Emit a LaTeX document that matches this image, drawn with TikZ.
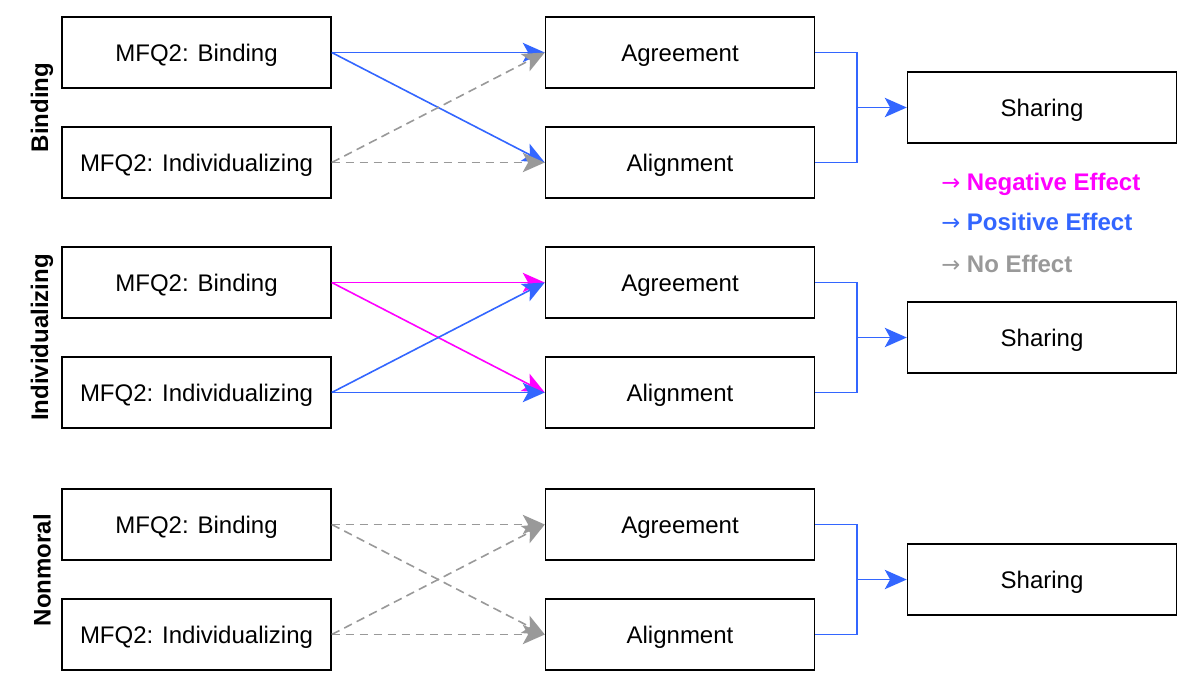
\documentclass[tikz,border=0pt]{standalone}
\usepackage{fontspec}
\setmainfont{Liberation Sans}
\newfontfamily\arrowfont{DejaVu Sans}
\usetikzlibrary{arrows.meta}
\definecolor{posc}{HTML}{3366FF}
\definecolor{negc}{HTML}{FF00FF}
\definecolor{noc}{HTML}{999999}
\newcommand{\legarrow}{{\arrowfont\mdseries\fontsize{17pt}{18pt}\selectfont →}}
\tikzset{
  box/.style={draw=black, line width=1.1pt, minimum width=201.75pt, minimum height=53.25pt, inner sep=0pt, text height=14pt, text depth=1.1pt, font=\fontsize{18pt}{21pt}\selectfont},
  tiphead/.style={-{Stealth[length=16.5pt, width=14.5pt, inset=4pt]}},
  posedge/.style={tiphead, draw=posc, line width=1.2pt},
  negedge/.style={tiphead, draw=negc, line width=1.2pt},
  noedge/.style={tiphead, draw=noc, line width=1.2pt, dash pattern=on 6.5pt off 4pt},
  linkedge/.style={draw=posc, line width=1.2pt},
  grplabel/.style={rotate=90, font=\bfseries\fontsize{18pt}{21pt}\selectfont},
  legtext/.style={anchor=west, inner sep=0pt, text height=14pt, text depth=1.1pt, font=\bfseries\fontsize{18pt}{21pt}\selectfont}
}
\begin{document}
\begin{tikzpicture}[x=0.75pt, y=-0.75pt]
\useasboundingbox (0,0) rectangle (1194,686);
% group 1
\node[box] (b1) at (196.5,52.5) {MFQ2: Binding};
\node[box] (i1) at (196.5,162.5) {MFQ2: Individualizing};
\node[box] (ag1) at (680,52.5) {Agreement};
\node[box] (al1) at (680,162.5) {Alignment};
\node[box] (s1) at (1042,107.5) {Sharing};
\coordinate (j1) at (857,107.5);
% group 2
\node[box] (b2) at (196.5,282.5) {MFQ2: Binding};
\node[box] (i2) at (196.5,392.5) {MFQ2: Individualizing};
\node[box] (ag2) at (680,282.5) {Agreement};
\node[box] (al2) at (680,392.5) {Alignment};
\node[box] (s2) at (1042,337.5) {Sharing};
\coordinate (j2) at (857,337.5);
% group 3
\node[box] (b3) at (196.5,524.5) {MFQ2: Binding};
\node[box] (i3) at (196.5,634.5) {MFQ2: Individualizing};
\node[box] (ag3) at (680,524.5) {Agreement};
\node[box] (al3) at (680,634.5) {Alignment};
\node[box] (s3) at (1042,579.5) {Sharing};
\coordinate (j3) at (857,579.5);
% group labels
\node[grplabel] (g1) at (42,107.5) {Binding};
\node[grplabel] (g2) at (42,337.5) {Individualizing};
\node[grplabel] (g3) at (42,570) {Nonmoral};
% edges group 1
\draw[posedge] (b1.east) -- (ag1.west);
\draw[posedge] (b1.east) -- (al1.west);
\draw[noedge] (i1.east) -- (ag1.west);
\draw[noedge] (i1.east) -- (al1.west);
% edges group 2
\draw[negedge] (b2.east) -- (ag2.west);
\draw[negedge] (b2.east) -- (al2.west);
\draw[posedge] (i2.east) -- (ag2.west);
\draw[posedge] (i2.east) -- (al2.west);
% edges group 3
\draw[noedge] (b3.east) -- (ag3.west);
\draw[noedge] (b3.east) -- (al3.west);
\draw[noedge] (i3.east) -- (ag3.west);
\draw[noedge] (i3.east) -- (al3.west);
% to sharing
\draw[linkedge] (ag1.east) -| (j1) |- (al1.east);
\draw[posedge] (j1) -- (s1.west);
\draw[linkedge] (ag2.east) -| (j2) |- (al2.east);
\draw[posedge] (j2) -- (s2.west);
\draw[linkedge] (ag3.east) -| (j3) |- (al3.east);
\draw[posedge] (j3) -- (s3.west);
% legend
\node[legtext, text=negc] (l1) at (941,182) {\legarrow\ Negative Effect};
\node[legtext, text=posc] (l2) at (941,222) {\legarrow\ Positive Effect};
\node[legtext, text=noc] (l3) at (941,264) {\legarrow\ No Effect};
\end{tikzpicture}
\end{document}
